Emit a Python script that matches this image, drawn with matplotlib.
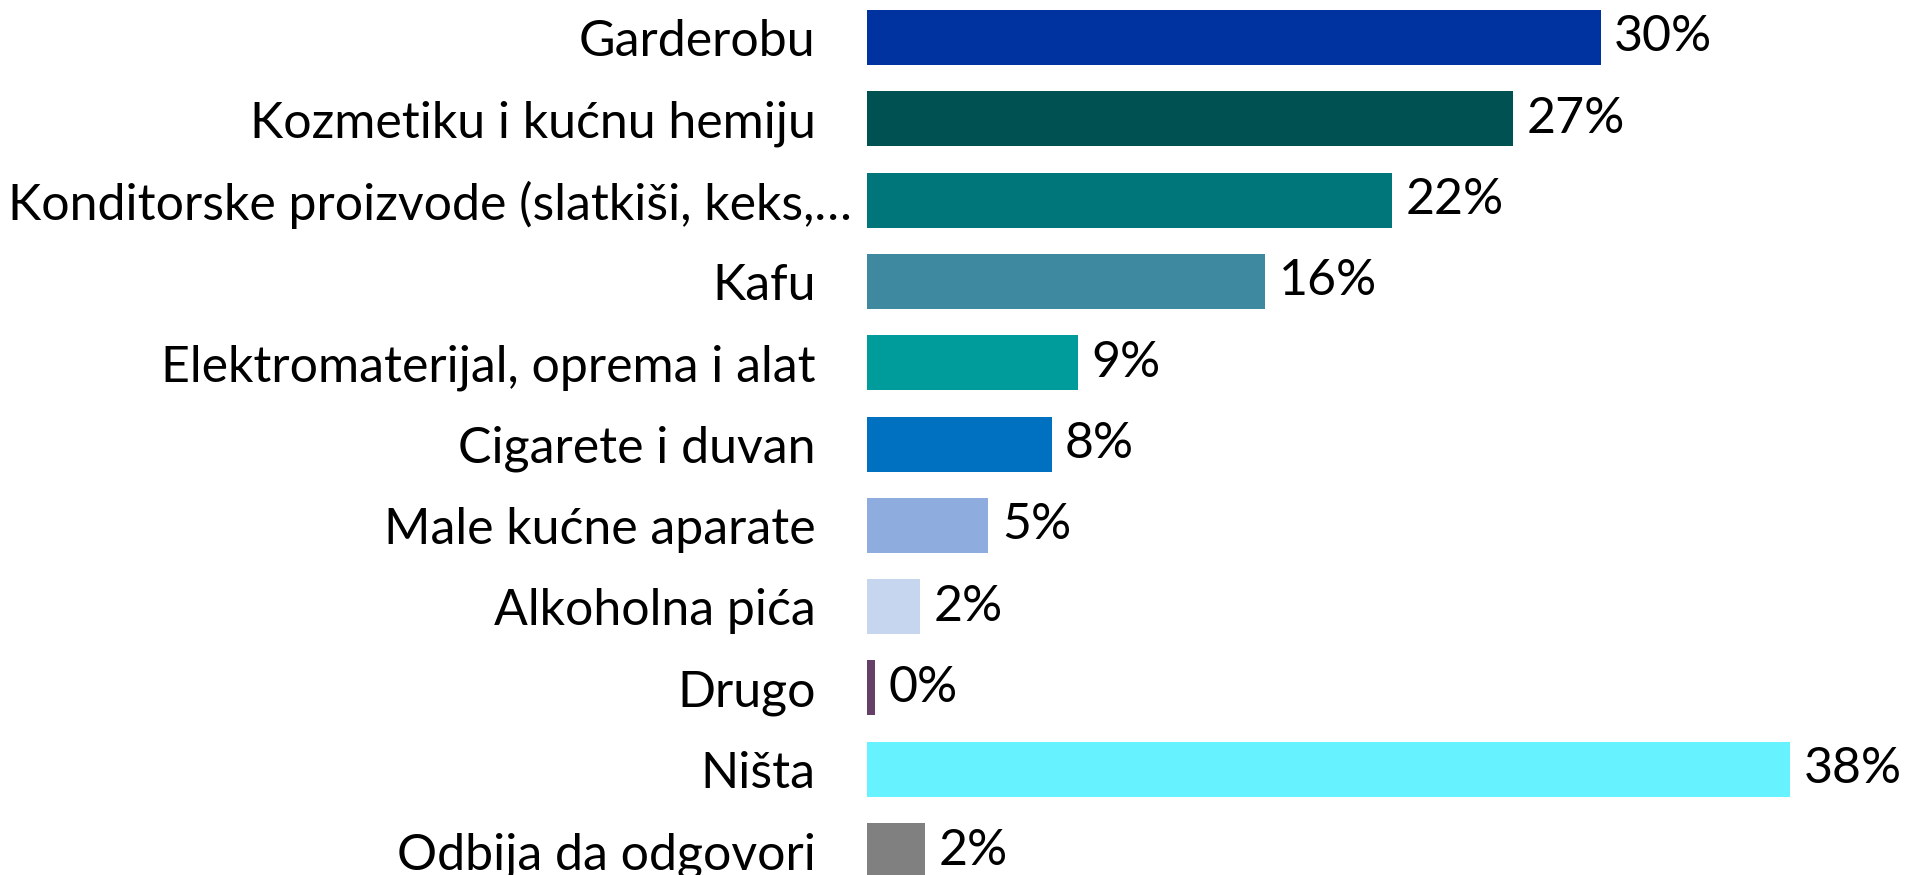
#!/usr/bin/env python3
"""Horizontal bar chart: what respondents buy (shares in %)."""

import matplotlib

matplotlib.use("Agg")
import matplotlib.pyplot as plt

categories = [
    "Garderobu",
    "Kozmetiku i kućnu hemiju",
    "Konditorske proizvode (slatkiši, keks,…",
    "Kafu",
    "Elektromaterijal, oprema i alat",
    "Cigarete i duvan",
    "Male kućne aparate",
    "Alkoholna pića",
    "Drugo",
    "Ništa",
    "Odbija da odgovori",
]
values = [30.2, 26.6, 21.6, 16.4, 8.7, 7.6, 5.0, 2.2, 0.35, 38.0, 2.4]
colors = [
    "#0033A0",
    "#005252",
    "#00767A",
    "#3E88A0",
    "#009B9B",
    "#0070C0",
    "#8EACDE",
    "#C5D6EE",
    "#653F68",
    "#66F2FF",
    "#808080",
]

plt.rcParams["font.family"] = ["Lato", "DejaVu Sans"]

fig = plt.figure(figsize=(19.07, 8.75), dpi=100)
ax = fig.add_axes([0.4546, 0.0, 0.5097, 1.0])

pos = list(range(len(categories)))
ax.barh(pos, values, height=0.676, color=colors, zorder=3)

for y, v in zip(pos, values):
    ax.text(v + 0.55, y, f"{v:.0f}%", va="center", ha="left", fontsize=36, color="black")

ax.set_xlim(0, 40)
ax.set_ylim(10.30, -0.461)
ax.set_yticks(pos)
ax.set_yticklabels(categories, fontsize=36)
ax.tick_params(axis="y", length=0, pad=37)
# the truncated label runs closer to the bars, like in the source slide
ax.get_yticklabels()[2].set_x(0.037)
ax.set_xticks([])
for side in ax.spines.values():
    side.set_visible(False)

fig.savefig("out.png", dpi=100)
